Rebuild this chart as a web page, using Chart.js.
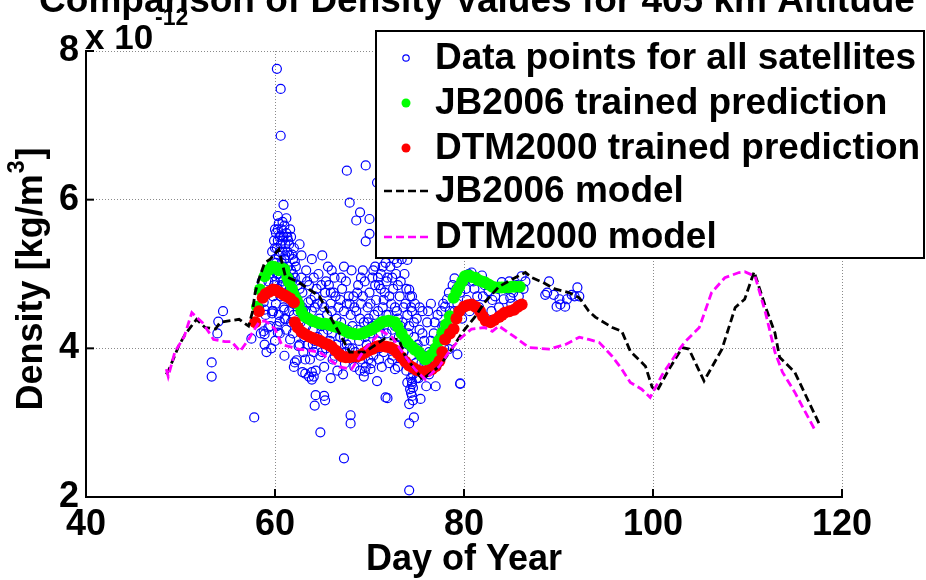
<!DOCTYPE html>
<html>
<head>
<meta charset="utf-8">
<script src="https://cdn.jsdelivr.net/npm/chart.js@4/dist/chart.umd.min.js"></script>
<style>
  html, body { margin: 0; padding: 0; background: #fff; }
  #wrap { width: 926px; height: 580px; }
</style>
</head>
<body>
<div id="wrap"><canvas id="c" width="926" height="580"></canvas></div>
<script>
// ---------------- DATA (density in units of 1e-12 kg/m^3) ----------------
const chartTitle = 'Comparison of Density Values for 405 km Altitude';
const xTitle = 'Day of Year';
const xTicks = [40, 60, 80, 100, 120];
const yTicks = [2, 4, 6, 8];
const seriesNames = ['Data points for all satellites', 'JB2006 trained prediction',
  'DTM2000 trained prediction', 'JB2006 model', 'DTM2000 model'];

// Observed densities [day, density]
const satellitePoints = [
  [53.3,3.81],[53.3,3.62],[54.5,4.50],[54.0,4.36],[53.9,4.20],[57.5,4.13],[57.8,3.07],
  [58.8,4.23],[58.9,4.19],[59.3,4.28],[59.7,4.50],[60.3,4.21],[60.5,4.36],
  [58.0,4.35],[58.3,4.55],[58.5,4.2],[58.8,4.62],[59.0,4.45],[59.2,4.75],[59.3,4.9],
  [59.5,4.3],[59.4,5.0],[58.6,4.9],[58.9,4.05],[59.1,3.95],[58.9,4.52],[59.7,4.47],
  [59.6,5.1],[59.7,5.3],[59.8,4.7],[59.9,5.45],[60.0,5.2],[60.0,4.9],[60.1,5.55],[60.1,4.6],
  [60.2,5.35],[60.2,5.0],[60.3,5.6],[60.3,4.8],[60.4,5.25],[60.4,4.45],[60.5,5.5],[60.5,5.05],
  [60.6,5.4],[60.6,4.7],[60.7,5.6],[60.7,5.15],[60.8,5.3],[60.8,4.9],[60.9,5.5],[60.9,4.55],
  [61.0,5.2],[61.0,5.65],[61.1,5.4],[61.1,4.85],[61.2,5.55],[61.2,5.0],[61.3,5.3],[61.3,4.7],
  [61.4,5.45],[61.4,5.1],[61.5,4.95],[61.5,5.25],[60.2,4.3],[60.5,4.2],[61.0,4.4],[60.3,5.78],
  [60.9,5.93],[61.6,5.6],[61.6,4.8],[61.7,5.05],[61.8,4.9],[61.9,5.2],[61.9,4.6],[62.0,4.45],
  [62.1,4.95],[62.2,4.7],[62.3,4.3],[62.4,4.85],[59.8,4.5],[59.6,4.0],[60.0,4.1],[61.2,4.25],
  [61.5,4.5],[60.6,5.52],[60.0,5.6],[61.8,5.26],[62.1,5.17],[61.0,4.52],[61.1,4.39],[61.6,4.12],
  [61.9,4.2],[62.5,4.03],[63.2,3.85],[62.1,3.81],[63.6,3.62],[62.9,3.68],[63.9,3.58],
  [60.4,5.0],[60.8,5.45],[61.3,5.5],[60.6,4.95],[61.7,4.35],
  [62.5,4.6],[62.7,4.35],[62.9,4.75],[63.1,4.15],[63.2,4.5],[63.4,4.9],[63.5,4.05],[63.6,4.4],
  [63.8,4.65],[64.0,4.25],[64.1,3.95],[64.2,4.55],[64.4,4.8],[64.5,4.15],[64.7,4.4],[64.8,3.9],
  [65.0,4.6],[65.1,4.2],[65.3,4.75],[65.4,4.0],[65.5,4.45],[65.7,4.85],[65.8,4.1],[66.0,4.5],
  [66.1,3.85],[66.2,4.3],[66.4,4.7],[66.5,4.05],[66.7,4.55],[66.8,3.95],[67.0,4.35],[67.1,4.8],
  [67.3,4.15],[67.4,3.8],[67.6,4.6],[67.7,4.25],[67.9,4.0],[68.0,4.45],[62.6,4.05],[63.0,3.95],
  [63.7,3.85],[64.3,3.7],[65.2,3.75],[65.9,3.6],[66.6,3.7],[67.2,3.65],[62.8,4.95],[63.3,5.05],
  [64.6,5.0],[65.6,5.1],[66.3,4.95],[67.5,4.9],[63.9,5.2],[65.0,5.25],[64.2,4.7],[65.9,4.75],
  [66.9,4.65],[64.9,4.85],[63.5,4.62],[66.0,4.2],[67.8,4.7],[65.4,4.9],
  [68.2,4.3],[68.3,4.7],[68.5,3.95],[68.6,4.5],[68.8,4.85],[68.9,4.1],[69.1,4.6],[69.2,3.85],
  [69.4,4.35],[69.5,4.9],[69.7,4.05],[69.8,4.55],[70.0,4.75],[70.1,4.2],[70.3,4.95],[70.4,3.9],
  [70.5,4.45],[70.7,4.65],[70.8,4.1],[71.0,4.85],[71.1,4.3],[71.2,5.0],[71.4,4.55],[71.5,3.95],
  [71.6,4.75],[71.8,4.2],[71.9,4.95],[72.0,4.45],[72.2,5.1],[72.3,4.6],[72.4,3.85],[72.5,4.8],
  [72.7,4.3],[72.8,5.0],[72.9,4.5],[73.1,4.15],[73.2,4.7],[73.3,4.9],[73.5,4.35],[73.6,3.95],
  [73.8,4.6],[73.9,4.1],[74.0,4.45],[68.4,3.75],[69.0,3.7],[69.6,3.75],[70.2,3.8],[71.3,3.75],
  [72.1,3.8],[73.0,3.75],[72.6,5.2],[71.7,5.15],[70.6,5.1],[69.3,5.05],[73.4,5.2],[73.7,5.0],
  [72.2,4.0],[71.0,4.0],[70.0,4.0],[71.2,4.8],[71.8,4.9],[74.2,4.79],[74.5,4.7],[70.9,4.95],
  [68.7,4.25],[69.9,4.4],[72.4,4.25],[73.0,4.4],
  [74.2,4.3],[74.3,4.7],[74.4,3.9],[74.5,4.5],[74.6,3.65],[74.7,4.15],[74.8,4.6],[74.9,3.8],
  [75.0,4.4],[75.1,4.05],[75.2,3.6],[75.3,4.25],[75.5,3.9],[75.6,4.5],[75.7,3.7],[75.8,4.1],
  [76.0,3.8],[76.1,4.35],[76.3,3.95],[76.5,4.6],[76.6,3.75],[76.8,4.2],[77.0,4.0],[77.2,4.45],
  [77.3,3.85],[77.5,4.15],[77.7,4.3],[77.9,4.0],[74.3,3.45],[74.5,3.52],[74.4,3.4],[74.5,3.36],
  [74.6,3.3],[74.0,3.54],[76.0,3.49],[77.0,3.49],[75.4,3.32],
  [78.5,4.5],[78.8,4.85],[79.0,4.94],[79.3,4.6],[79.6,4.75],[80.0,4.9],[80.3,4.65],[80.5,5.0],
  [80.8,5.02],[81.1,4.8],[81.4,4.7],[81.9,4.98],[82.2,4.85],[82.6,4.77],[83.0,4.65],[83.3,4.7],
  [83.7,4.55],[84.0,4.89],[84.2,4.66],[84.5,4.8],[84.8,4.9],[84.9,4.68],[85.2,4.75],[85.6,4.85],
  [86.1,4.97],[86.5,4.9],[79.8,4.4],[80.6,4.5],[81.6,4.55],[82.9,4.5],[78.0,4.56],[78.2,4.66],
  [78.4,4.75],[79.3,3.92],[79.6,3.52],[78.4,3.99],
  [89.0,4.9],[88.6,4.72],[88.8,4.75],[89.5,4.72],[89.8,4.56],[90.1,4.66],[90.2,4.59],[90.7,4.56],
  [90.9,4.66],[91.4,4.72],[92.0,4.82],[91.7,4.70],[92.2,4.7],
  [60.2,7.76],[60.6,7.49],[60.6,6.86],[67.6,6.39],[69.6,6.46],[70.8,6.23],[67.9,5.96],[69.0,5.83],
  [68.6,5.72],[70.0,5.74],[70.0,5.54],[69.6,5.44],[67.3,5.10],[74.0,5.19],
  [62.3,3.84],[63.2,3.66],[63.9,3.68],[64.1,3.62],[64.3,3.37],[64.2,3.23],[65.2,3.36],[65.3,3.30],
  [64.8,2.87],[68.0,3.10],[68.0,2.99],[67.3,2.52],[71.9,3.33],[74.2,3.25],[74.7,3.07],[74.2,2.99],
  [74.2,2.09],[79.6,3.53],[69.5,3.69],[70.1,3.72],[70.8,3.56],[72.7,3.72],[69.4,3.62],[61.0,3.9],
  [62.0,3.75],[71.7,3.34],
  [59.9,4.85],[60.1,5.15],[60.3,5.45],[60.5,5.3],[60.7,4.85],[60.9,5.1],[61.1,5.25],[61.3,4.9],
  [61.5,5.4],[61.7,5.5],[60.4,5.68],[60.8,5.7],[61.2,5.75],[60.0,5.35],[61.9,5.0],[62.2,5.1],
  [62.4,4.5],[62.6,4.8],[62.9,4.55],[63.3,4.3],[63.6,4.85],[63.9,4.5],[64.2,4.1],[64.5,4.6],
  [64.9,4.3],[65.2,4.55],[65.6,4.25],[65.9,4.6],[66.2,4.75],[66.5,4.4],[66.9,4.15],[67.3,4.5],
  [67.6,4.05],[67.9,4.6],[68.2,4.0],[68.4,4.55],[68.7,4.75],[69.0,4.4],[69.3,4.7],[69.5,4.15],
  [69.8,4.35],[70.1,4.6],[70.3,4.3],[70.6,4.85],[70.9,4.5],[71.2,4.2],[71.5,4.65],[71.8,4.45],
  [72.1,4.7],[72.4,4.95],[72.7,4.55],[73.0,4.85],[73.3,4.3],[73.6,4.55],[73.9,4.8],[74.1,4.2],
  [74.4,4.55],[74.7,4.35],[75.0,4.0],[75.3,4.55],[75.6,4.2],[75.9,3.9],[76.2,4.5],[76.5,4.1],
  [76.9,4.35],[77.2,3.95],[77.6,4.5],[77.9,4.3],[74.5,3.55],[74.6,3.47],[74.4,3.6],[73.9,3.7],
  [75.0,3.6],[72.5,3.9],[71.0,3.85],[69.9,3.85],[68.8,3.9],[67.5,3.95],[66.3,3.9],[65.0,3.95],
  [64.0,4.05],[63.1,4.2],[72.9,4.05],[76.7,3.9],[76.3,3.65],[75.5,3.8],[67.0,4.95],[68.1,5.05],
  [69.1,4.95],[70.4,5.05],[71.4,5.1],[72.9,5.15],[66.0,5.05],[64.1,4.95],[62.8,5.25],[62.6,5.4],
  [62.0,5.35],[80.2,4.8],[81.0,4.9],[82.0,4.7],[83.6,4.8],[85.0,4.6],[85.8,4.7],[79.2,4.8],
  [79.0,4.5],[78.7,4.3],[77.8,4.6],[86.3,4.8]
];

// JB2006 trained prediction
const jbTrainedDay = [58.1,58.4,58.9,59.3,59.7,60.0,60.4,60.7,61.0,61.3,61.5,61.8,62.0,62.3,62.5,62.8,
  63.1,63.5,63.9,64.2,64.6,65.0,65.3,65.7,66.1,66.4,66.8,67.2,67.5,67.8,68.2,68.5,68.9,69.3,69.6,
  70.0,70.3,70.7,71.0,71.3,71.6,72.0,72.3,72.7,73.0,73.4,73.8,74.1,74.5,74.8,75.2,75.5,75.9,76.2,
  76.6,77.0,77.3,77.7,78.1,78.5,78.9,79.2,79.5,79.8,80.1,80.5,80.8,81.2,81.5,81.9,82.2,82.6,83.0,
  83.3,83.7,84.0,84.3,84.7,85.0,85.4,85.9];
const jbTrainedVal = [4.56,4.79,4.97,5.05,5.10,5.09,5.05,5.08,5.06,4.95,4.89,4.80,4.72,4.65,4.59,4.50,
  4.43,4.40,4.37,4.36,4.34,4.33,4.33,4.32,4.30,4.29,4.28,4.25,4.23,4.21,4.20,4.19,4.19,4.20,4.22,
  4.24,4.26,4.29,4.32,4.35,4.36,4.37,4.36,4.35,4.29,4.20,4.12,4.07,4.02,3.98,3.95,3.90,3.85,3.88,
  3.92,4.00,4.10,4.21,4.32,4.43,4.68,4.76,4.83,4.90,4.97,4.98,4.96,4.95,4.92,4.90,4.89,4.86,4.83,
  4.82,4.82,4.82,4.82,4.82,4.83,4.83,4.83];

// DTM2000 trained prediction
const dtmTrainedDay = [57.9,58.3,58.7,59.0,59.4,59.8,60.1,60.5,60.9,61.2,61.6,62.0,62.1,62.4,62.8,63.2,
  63.6,64.0,64.4,64.8,65.2,65.6,66.0,66.4,66.8,67.1,67.5,67.9,68.3,68.7,69.1,69.5,69.9,70.3,70.7,
  71.0,71.4,71.8,72.2,72.6,73.0,73.4,73.8,74.2,74.6,75.0,75.4,75.8,76.2,76.6,77.0,77.4,77.7,78.0,
  78.5,78.9,79.2,79.5,80.0,80.4,80.8,81.2,81.7,82.0,82.3,82.8,83.2,83.7,84.0,84.3,84.8,85.3,85.7,86.1];
const dtmTrainedVal = [4.35,4.50,4.68,4.73,4.76,4.79,4.78,4.75,4.72,4.70,4.67,4.62,4.35,4.28,4.22,4.19,
  4.16,4.14,4.12,4.10,4.07,4.05,4.02,3.97,3.92,3.89,3.88,3.88,3.89,3.89,3.91,3.94,3.97,3.99,4.02,
  4.03,4.03,4.02,4.01,3.98,3.93,3.88,3.82,3.77,3.74,3.71,3.69,3.69,3.70,3.72,3.76,3.83,3.95,4.12,
  4.20,4.26,4.40,4.50,4.56,4.58,4.59,4.56,4.50,4.43,4.37,4.35,4.38,4.42,4.45,4.48,4.50,4.52,4.56,4.59];

// JB2006 model
const jbModelDay = [48.5,48.8,49.8,50.5,51.7,52.6,53.7,54.2,56.2,57.2,57.6,57.9,58.3,58.9,59.5,60.4,
  61.1,62.5,64.7,66.0,67.9,69.5,71.6,73.1,73.8,75.6,77.4,78.7,79.8,81.2,82.2,83.7,85.1,86.5,87.2,
  88.3,89.6,91.1,92.2,93.2,93.9,95.7,96.7,97.6,99.2,99.9,100.4,101.7,103.1,103.8,105.4,107.3,108.7,
  109.7,110.7,111.9,112.9,113.4,115.0,117.6];
const jbModelVal = [3.65,3.72,4.03,4.19,4.39,4.28,4.26,4.35,4.39,4.30,4.48,4.75,4.93,5.15,5.20,5.33,
  4.97,4.89,4.70,4.39,3.95,3.95,4.13,4.12,3.89,3.58,3.76,3.99,4.21,4.43,4.62,4.83,4.93,5.02,4.95,
  4.89,4.80,4.75,4.68,4.50,4.42,4.28,4.23,3.96,3.76,3.48,3.42,3.72,4.01,3.99,3.56,3.99,4.55,
  4.66,5.03,4.56,4.21,3.88,3.68,2.98];

// DTM2000 model
const dtmModelDay = [48.5,48.7,49.4,50.4,51.2,52.3,53.5,54.7,55.4,56.3,57.2,57.8,58.3,58.9,59.4,60.0,
  60.7,62.5,64.7,66.8,68.1,69.5,71.3,72.4,73.8,74.8,75.9,77.4,78.4,79.5,80.8,82.2,83.0,83.7,85.4,
  86.9,89.0,90.7,92.2,93.2,94.3,95.7,96.7,97.6,98.8,99.7,101.0,102.8,103.4,104.9,106.2,107.6,109.1,
  109.7,110.8,111.9,112.9,113.7,115.0,117.1];
const dtmModelVal = [3.72,3.62,3.95,4.16,4.48,4.35,4.12,4.09,4.09,3.96,4.12,4.25,4.35,4.37,4.33,4.26,
  4.05,3.99,3.95,3.75,3.72,3.99,4.23,4.15,3.89,3.72,3.58,3.76,3.95,4.12,4.26,4.28,4.23,4.30,4.15,
  4.01,3.99,4.05,4.15,4.12,4.08,3.89,3.72,3.54,3.45,3.34,3.65,3.99,4.09,4.28,4.75,4.95,5.02,
  5.03,4.97,4.48,3.95,3.68,3.41,2.91];

// ---------------- BUILD ----------------
const zip = (xs, ys) => xs.map((x, i) => ({ x: x, y: ys[i] }));
const FONT = "'Liberation Sans', Arial, Helvetica, sans-serif";

const datasets = [
  { label: seriesNames[0], data: satellitePoints.map(p => ({ x: p[0], y: p[1] })),
    showLine: false, pointStyle: 'circle', pointRadius: 4.5, borderWidth: 1.2,
    borderColor: '#0000ff', backgroundColor: 'rgba(0,0,0,0)', pointBorderColor: '#0000ff',
    pointBackgroundColor: 'rgba(0,0,0,0)', order: 5, legendKind: 'open' },
  { label: seriesNames[1], data: zip(jbTrainedDay, jbTrainedVal), showLine: false,
    pointRadius: 6, borderWidth: 0, pointBackgroundColor: '#00ff00', pointBorderColor: '#00ff00',
    backgroundColor: '#00ff00', borderColor: '#00ff00', order: 4, legendKind: 'dot' },
  { label: seriesNames[2], data: zip(dtmTrainedDay, dtmTrainedVal), showLine: false,
    pointRadius: 6, borderWidth: 0, pointBackgroundColor: '#ff0000', pointBorderColor: '#ff0000',
    backgroundColor: '#ff0000', borderColor: '#ff0000', order: 3, legendKind: 'dot' },
  { label: seriesNames[3], data: zip(jbModelDay, jbModelVal), showLine: true, pointRadius: 0,
    borderColor: '#000000', borderWidth: 2.8, borderDash: [8, 4], fill: false, tension: 0,
    order: 2, legendKind: 'line' },
  { label: seriesNames[4], data: zip(dtmModelDay, dtmModelVal), showLine: true, pointRadius: 0,
    borderColor: '#ff00ff', borderWidth: 2.8, borderDash: [8, 4], fill: false, tension: 0,
    order: 1, legendKind: 'line' }
];

const overlay = {
  id: 'overlay',
  afterDraw(chart) {
    const ctx = chart.ctx;
    const xs = chart.scales.x, ys = chart.scales.y;
    const ca = chart.chartArea;
    ctx.save();
    // inward tick marks
    ctx.strokeStyle = '#000'; ctx.lineWidth = 2;
    xTicks.forEach(v => {
      const px = xs.getPixelForValue(v);
      ctx.beginPath(); ctx.moveTo(px, ca.bottom); ctx.lineTo(px, ca.bottom - 8); ctx.stroke();
    });
    yTicks.forEach(v => {
      const py = ys.getPixelForValue(v);
      ctx.beginPath(); ctx.moveTo(ca.left, py); ctx.lineTo(ca.left + 8, py); ctx.stroke();
    });
    // title
    ctx.fillStyle = '#000';
    ctx.font = 'bold 37px ' + FONT;
    ctx.textAlign = 'center'; ctx.textBaseline = 'alphabetic';
    ctx.fillText(chartTitle, 477, 12);
    // exponent label
    ctx.textAlign = 'left';
    ctx.font = 'bold 35px ' + FONT;
    ctx.fillText('x 10', ca.left - 1, 49);
    const w10 = ctx.measureText('x 10').width;
    ctx.font = 'bold 23px ' + FONT;
    ctx.fillText('-12', ca.left + w10 + 1, 25);
    // y axis title with superscript
    ctx.save();
    ctx.translate(32, (ca.top + ca.bottom) / 2 + 6);
    ctx.rotate(-Math.PI / 2);
    ctx.textBaseline = 'middle';
    const main = 'Density [kg/m', sup = '3', end = ']';
    ctx.font = 'bold 36px ' + FONT;
    const w1 = ctx.measureText(main).width, w3 = ctx.measureText(end).width;
    ctx.font = 'bold 23px ' + FONT;
    const w2 = ctx.measureText(sup).width;
    let x0 = -(w1 + w2 + w3) / 2;
    ctx.font = 'bold 36px ' + FONT;
    ctx.fillText(main, x0, 0);
    ctx.font = 'bold 23px ' + FONT;
    ctx.fillText(sup, x0 + w1 + 1, -14);
    ctx.font = 'bold 36px ' + FONT;
    ctx.fillText(end, x0 + w1 + w2 + 2, 0);
    ctx.restore();
    // legend box
    const L = 376, T = 31, R = 924, B = 258;
    ctx.fillStyle = '#fff';
    ctx.fillRect(L, T, R - L, B - T);
    ctx.strokeStyle = '#000'; ctx.lineWidth = 2;
    ctx.strokeRect(L, T, R - L, B - T);
    const rowsY = [58, 103, 148, 191, 237];
    chart.data.datasets.forEach((ds, i) => {
      const y = rowsY[i];
      if (ds.legendKind === 'open') {
        ctx.beginPath(); ctx.arc(406, y, 3.2, 0, Math.PI * 2);
        ctx.strokeStyle = ds.borderColor; ctx.lineWidth = 1.2; ctx.stroke();
      } else if (ds.legendKind === 'dot') {
        ctx.beginPath(); ctx.arc(406, y, 4.5, 0, Math.PI * 2);
        ctx.fillStyle = ds.pointBackgroundColor; ctx.fill();
      } else {
        ctx.beginPath(); ctx.setLineDash([8, 4]);
        ctx.moveTo(384, y); ctx.lineTo(431, y);
        ctx.strokeStyle = ds.borderColor; ctx.lineWidth = 2.4; ctx.stroke();
        ctx.setLineDash([]);
      }
      ctx.fillStyle = '#000';
      ctx.font = 'bold 37px ' + FONT;
      ctx.textAlign = 'left'; ctx.textBaseline = 'middle';
      ctx.fillText(ds.label, 435, y + 1);
    });
    ctx.restore();
  }
};

new Chart(document.getElementById('c'), {
  type: 'scatter',
  data: { datasets: datasets },
  options: {
    responsive: false,
    animation: false,
    events: [],
    layout: { padding: { left: 0, right: 84, top: 51, bottom: 0 } },
    plugins: { legend: { display: false }, title: { display: false }, tooltip: { enabled: false } },
    scales: {
      x: {
        type: 'linear', min: 40, max: 120,
        afterBuildTicks: s => { s.ticks = xTicks.map(v => ({ value: v })); },
        afterFit: s => { s.height = 83; },
        ticks: { color: '#000', font: { family: FONT, size: 36, weight: 'bold' }, padding: 6, maxRotation: 0 },
        grid: { color: '#8a8a8a', lineWidth: 1, drawTicks: false },
        border: { display: true, color: '#000', width: 2, dash: [1, 2] },
        title: { display: true, text: xTitle, color: '#000', padding: { top: 0, bottom: 2 },
          font: { family: FONT, size: 36, weight: 'bold', lineHeight: 1 } }
      },
      y: {
        type: 'linear', min: 2, max: 8,
        afterBuildTicks: s => { s.ticks = yTicks.map(v => ({ value: v })); },
        afterFit: s => { s.width = 86; },
        ticks: { color: '#000', font: { family: FONT, size: 36, weight: 'bold' }, padding: 7 },
        grid: { color: '#8a8a8a', lineWidth: 1, drawTicks: false },
        border: { display: true, color: '#000', width: 2, dash: [1, 2] }
      }
    }
  },
  plugins: [overlay]
});
</script>
</body>
</html>
